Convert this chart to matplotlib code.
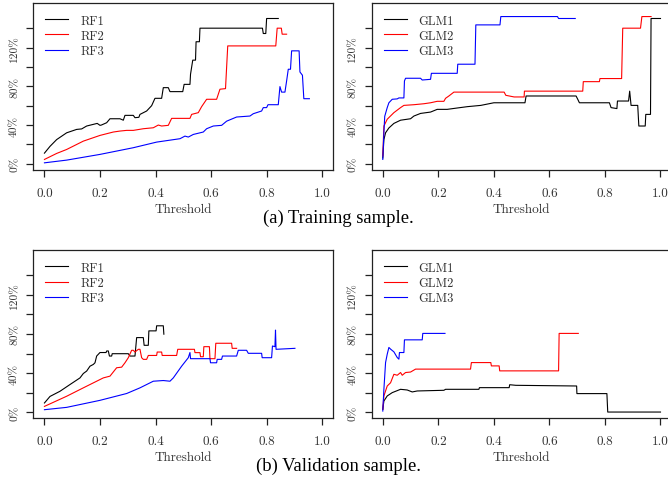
import matplotlib
matplotlib.use("Agg")
import matplotlib.pyplot as plt

# --- data (threshold, percent) ---
thr_ticks = [0.0, 0.2, 0.4, 0.6, 0.8, 1.0]
pct_ticks = [0, 20, 40, 60, 80, 100, 120, 140]
pct_labels = ["0%", "", "40%", "", "80%", "", "120%", ""]

# training, RF
tr_rf1_x = [0, 0.02, 0.044, 0.08, 0.116, 0.134, 0.152, 0.19, 0.2, 0.205, 0.224, 0.236, 0.272, 0.284, 0.29, 0.32, 0.326, 0.34, 0.344, 0.368, 0.386, 0.398, 0.422, 0.428, 0.446, 0.452, 0.498, 0.503, 0.524, 0.526, 0.534, 0.544, 0.546, 0.558, 0.56, 0.785, 0.788, 0.797, 0.8, 0.842]
tr_rf1_y = [11, 18, 25, 32, 35.5, 36, 39, 41.7, 39.7, 40, 42.4, 46.5, 46.5, 45, 50, 50, 47.6, 48, 51, 54.5, 60, 67.6, 67.6, 78.6, 78.6, 74.5, 74.5, 82, 82, 92.4, 107, 107, 126, 126, 140, 140, 134.5, 134.5, 150, 150]
tr_rf2_x = [0, 0.044, 0.08, 0.14, 0.2, 0.248, 0.272, 0.296, 0.32, 0.356, 0.392, 0.41, 0.422, 0.446, 0.458, 0.524, 0.53, 0.554, 0.566, 0.584, 0.62, 0.632, 0.652, 0.66, 0.833, 0.838, 0.853, 0.856, 0.872]
tr_rf2_y = [4.5, 10.7, 14.8, 23.4, 29.3, 32.8, 33.8, 34.5, 34.5, 36.2, 37.2, 40, 39, 39.7, 46.9, 46.9, 51, 52.8, 59, 66.6, 66.6, 77, 77.6, 121.7, 121.7, 140, 140, 133.8, 133.8]
tr_rf3_x = [0, 0.08, 0.2, 0.32, 0.404, 0.488, 0.506, 0.518, 0.536, 0.572, 0.584, 0.608, 0.638, 0.656, 0.692, 0.74, 0.752, 0.782, 0.788, 0.8, 0.805, 0.842, 0.848, 0.854, 0.866, 0.872, 0.878, 0.886, 0.89, 0.917, 0.92, 0.929, 0.934, 0.954]
tr_rf3_y = [1, 3.8, 9.7, 16.6, 22.4, 25.9, 28.6, 27.6, 30.3, 32.8, 36.2, 39, 39.7, 44, 48.3, 49.3, 51.7, 54.5, 58, 58, 61, 61, 79.7, 74, 74, 85.5, 97.6, 97.6, 116.6, 116.6, 94.8, 91.4, 67.2, 67.2]

# training, GLM
tr_glm1_x = [0, 0.004, 0.01, 0.022, 0.04, 0.064, 0.1, 0.112, 0.136, 0.172, 0.196, 0.232, 0.268, 0.305, 0.353, 0.4, 0.512, 0.516, 0.696, 0.702, 0.708, 0.816, 0.822, 0.843, 0.845, 0.885, 0.889, 0.894, 0.918, 0.922, 0.945, 0.947, 0.964, 0.966, 1.0]
tr_glm1_y = [6, 25, 32, 37, 41.7, 45, 46.5, 49.3, 52, 53.4, 56.2, 56.2, 57.6, 59, 60.3, 63, 63, 70, 70, 66.6, 63, 63, 58, 57, 64.8, 64.8, 75, 60.3, 60.3, 39, 39, 51, 51, 150, 150]
tr_glm2_x = [0, 0.004, 0.016, 0.04, 0.064, 0.076, 0.112, 0.148, 0.172, 0.196, 0.22, 0.226, 0.238, 0.256, 0.437, 0.443, 0.473, 0.509, 0.51, 0.72, 0.722, 0.78, 0.782, 0.86, 0.864, 0.928, 0.933, 0.966]
tr_glm2_y = [8, 39, 46, 52.8, 58, 60.3, 61, 62, 63, 64.5, 64.5, 67.6, 70, 74, 74, 70.7, 69, 69, 75, 75, 84.8, 84.8, 88, 88, 140, 140, 152, 152]
tr_glm3_x = [0, 0.004, 0.007, 0.016, 0.022, 0.034, 0.052, 0.058, 0.076, 0.078, 0.082, 0.136, 0.142, 0.172, 0.175, 0.268, 0.27, 0.332, 0.335, 0.422, 0.425, 0.629, 0.633, 0.693]
tr_glm3_y = [4.5, 32, 49, 58, 63, 66.6, 67, 68, 68, 85.5, 88.3, 88.3, 86.5, 87.2, 93.4, 93.4, 102.8, 102.8, 143.4, 143.4, 152, 152, 150, 150]

# validation, RF
va_rf1_x = [0, 0.02, 0.056, 0.092, 0.128, 0.14, 0.152, 0.164, 0.176, 0.182, 0.188, 0.2, 0.222, 0.224, 0.23, 0.234, 0.242, 0.244, 0.302, 0.308, 0.326, 0.332, 0.356, 0.359, 0.374, 0.376, 0.402, 0.404, 0.428, 0.43]
va_rf1_y = [9.3, 16, 21.3, 28.2, 35, 39.5, 42, 47, 48.8, 50.5, 57.4, 61, 61, 62.6, 62.6, 57.4, 57.4, 59.8, 59.8, 57.4, 57.4, 76.3, 76.3, 68.4, 68.4, 83.2, 83.2, 88.4, 88.4, 79.8]
va_rf2_x = [0, 0.08, 0.14, 0.188, 0.212, 0.236, 0.26, 0.278, 0.29, 0.302, 0.314, 0.32, 0.326, 0.338, 0.344, 0.35, 0.356, 0.368, 0.374, 0.404, 0.406, 0.422, 0.424, 0.476, 0.48, 0.54, 0.542, 0.56, 0.562, 0.572, 0.574, 0.594, 0.596, 0.614, 0.617, 0.674, 0.676, 0.692]
va_rf2_y = [5.8, 16.2, 24.8, 31.6, 35, 36.8, 45.4, 46, 50.5, 55.7, 63.3, 63.3, 61.5, 64.3, 64.3, 55.7, 54, 54, 58, 58, 61.5, 61.5, 58, 58, 64.3, 64.3, 60.9, 60.9, 56.7, 56.7, 67, 67, 54.7, 54.7, 70.5, 70.5, 65.3, 65.3]
va_rf3_x = [0, 0.08, 0.2, 0.296, 0.344, 0.368, 0.392, 0.428, 0.452, 0.464, 0.494, 0.518, 0.524, 0.526, 0.596, 0.598, 0.62, 0.622, 0.638, 0.641, 0.692, 0.698, 0.728, 0.734, 0.782, 0.784, 0.818, 0.821, 0.83, 0.832, 0.834, 0.902]
va_rf3_y = [2.4, 4.8, 12, 19, 24.8, 28.2, 31.6, 32.3, 31.6, 35, 47, 55.7, 61, 54.7, 54.7, 50.5, 50.5, 54, 54, 57.4, 57.4, 63.3, 63.3, 60.2, 60.2, 55.7, 55.7, 67.7, 67, 84, 64.3, 65.3]

# validation, GLM
va_glm1_x = [0, 0.004, 0.016, 0.034, 0.064, 0.088, 0.106, 0.124, 0.22, 0.226, 0.346, 0.348, 0.455, 0.457, 0.479, 0.698, 0.699, 0.807, 0.81, 1.0]
va_glm1_y = [2.7, 11.3, 16.5, 19.9, 23.3, 22.6, 20.6, 21.6, 22.3, 23.3, 23.3, 25, 25, 28, 27.4, 26.7, 18.9, 18.9, 0, 0]
va_glm2_x = [0, 0.004, 0.016, 0.028, 0.04, 0.052, 0.064, 0.07, 0.082, 0.1, 0.118, 0.316, 0.319, 0.389, 0.391, 0.419, 0.421, 0.633, 0.635, 0.704]
va_glm2_y = [2.7, 16.5, 26.7, 30, 38.7, 37.7, 40.5, 37.7, 40.5, 41, 44, 44, 50.7, 50.7, 47.3, 47.3, 42.2, 42.2, 80.6, 80.6]
va_glm3_x = [0, 0.004, 0.01, 0.016, 0.022, 0.028, 0.04, 0.052, 0.058, 0.06, 0.076, 0.078, 0.142, 0.144, 0.224]
va_glm3_y = [1, 23.3, 50.7, 59.3, 66.2, 64.5, 61.7, 55.9, 54.2, 61, 61, 74, 74, 80.6, 80.6]

colors = ["black", "red", "blue"]
CM = "cmr10"
TXT = "#333333"

fig = plt.figure(figsize=(6.68, 4.81), dpi=100)

def panel(rect, series, names):
    ax = fig.add_axes(rect)
    for (x, y), c, n in zip(series, colors, names):
        ax.plot(x, y, color=c, lw=0.8, label=n)
    ax.set_xlim(-0.04, 1.04)
    ax.set_ylim(-6.4, 166.4)
    ax.set_xticks(thr_ticks)
    ax.set_xticklabels([f"{t:.1f}" for t in thr_ticks], fontfamily=CM, fontsize=9.5, color=TXT)
    ax.set_yticks(pct_ticks)
    ax.set_yticklabels(pct_labels, fontfamily=CM, fontsize=8.2, color=TXT,
                       rotation=90, va="center")
    ax.tick_params(axis="both", direction="out", length=5, width=0.9, color="#222222")
    ax.tick_params(axis="x", pad=7)
    ax.tick_params(axis="y", pad=5)
    for s in ax.spines.values():
        s.set_linewidth(0.9)
        s.set_color("#222222")
    ax.set_xlabel("Threshold", fontfamily=CM, fontsize=9.5, color=TXT, labelpad=3)
    leg = ax.legend(loc="upper left", frameon=False, handlelength=1.85, handletextpad=0.95,
                    labelspacing=0.25, borderpad=0.0, borderaxespad=0.95,
                    prop={"family": CM, "size": 9})
    for t in leg.get_texts():
        t.set_color(TXT)
    return ax

W, H = 0.449, 0.348
panel([0.0499, 0.6445, W, H],
      [(tr_rf1_x, tr_rf1_y), (tr_rf2_x, tr_rf2_y), (tr_rf3_x, tr_rf3_y)], ["RF1", "RF2", "RF3"])
panel([0.5564, 0.6445, W, H],
      [(tr_glm1_x, tr_glm1_y), (tr_glm2_x, tr_glm2_y), (tr_glm3_x, tr_glm3_y)], ["GLM1", "GLM2", "GLM3"])
panel([0.0499, 0.1283, W, 0.3505],
      [(va_rf1_x, va_rf1_y), (va_rf2_x, va_rf2_y), (va_rf3_x, va_rf3_y)], ["RF1", "RF2", "RF3"])
panel([0.5564, 0.1283, W, 0.3505],
      [(va_glm1_x, va_glm1_y), (va_glm2_x, va_glm2_y), (va_glm3_x, va_glm3_y)], ["GLM1", "GLM2", "GLM3"])

fig.text(0.507, 1 - 218 / 481, "(a) Training sample.", ha="center", va="center",
         fontfamily="Liberation Serif", fontsize=13.4)
fig.text(0.507, 1 - 466 / 481, "(b) Validation sample.", ha="center", va="center",
         fontfamily="Liberation Serif", fontsize=13.4)

fig.savefig("out.png", dpi=100)
